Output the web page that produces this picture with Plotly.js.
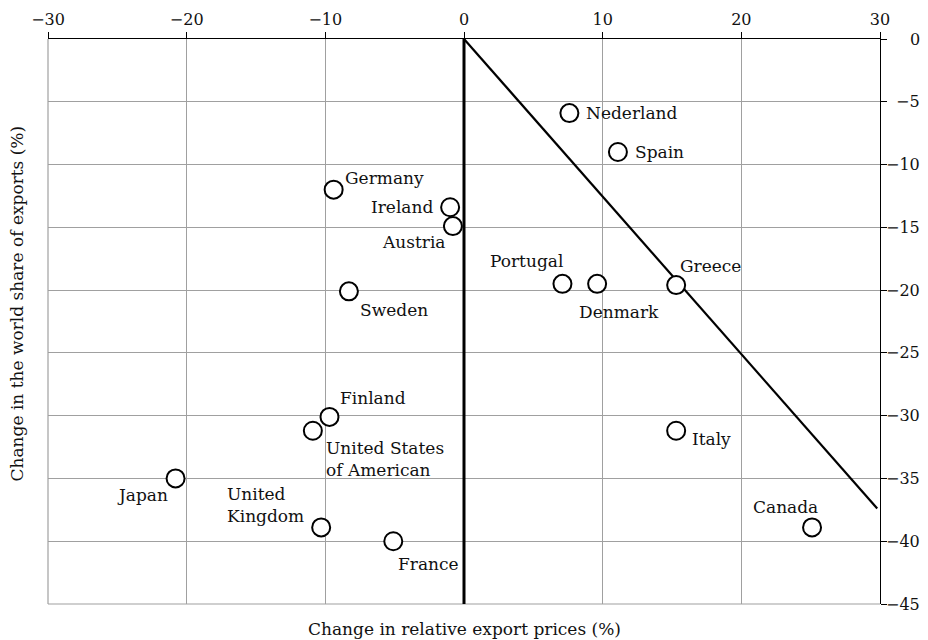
<!DOCTYPE html>
<html>
<head>
<meta charset="utf-8">
<script src="https://cdn.plot.ly/plotly-3.0.1.min.js"></script>
<style>html,body{margin:0;padding:0;background:#fff;}#chart{width:928px;height:640px;}</style>
</head>
<body>
<div id="chart"></div>
<script>
// ---- data ----
var countries = ["Nederland", "Spain", "Germany", "Ireland", "Austria", "Sweden", "Portugal", "Denmark", "Greece", "Italy", "Canada", "Finland", "United States<br>of American", "Japan", "United<br>Kingdom", "France"];
var priceChange = [7.6, 11.1, -9.4, -1.0, -0.8, -8.3, 7.1, 9.6, 15.3, 15.3, 25.1, -9.7, -10.9, -20.8, -10.3, -5.1];
var shareChange = [-5.9, -9.0, -12.0, -13.4, -14.9, -20.1, -19.5, -19.5, -19.6, -31.2, -38.9, -30.1, -31.2, -35.0, -38.9, -40.0];
var diagLineX = [0, 29.8];
var diagLineY = [0, -37.4];
var vertLineX = [0, 0];
var vertLineY = [0, -45];
var xTicks = [-30, -20, -10, 0, 10, 20, 30];
var yTicks = [0, -5, -10, -15, -20, -25, -30, -35, -40, -45];
var xTitle = "Change in relative export prices (%)";
var yTitle = "Change in the world share of exports (%)";

// ---- label placement (style only) ----
var place = {
  "Nederland": ["left", "middle", 15, 0],
  "Spain": ["left", "middle", 15, 0],
  "Germany": ["left", "middle", 9, 12],
  "Ireland": ["right", "middle", -15, 0],
  "Austria": ["right", "middle", -6, -16],
  "Sweden": ["left", "middle", 9, -19],
  "Portugal": ["right", "middle", 3, 23],
  "Denmark": ["center", "middle", 22, -28],
  "Greece": ["left", "middle", 2, 19],
  "Italy": ["left", "middle", 14, -8],
  "Canada": ["right", "middle", 8, 20],
  "Finland": ["left", "middle", 9, 19],
  "United States<br>of American": ["left", "middle", 11, -28],
  "Japan": ["right", "middle", -6, -17],
  "United<br>Kingdom": ["right", "middle", -15, 22],
  "France": ["left", "middle", 3, -23]
};

var FONT = "DejaVu Serif, Liberation Serif, serif";
var fontLabel = {family: FONT, size: 17, color: "#111"};
var fontTick = {family: FONT, size: 16, color: "#111"};

var traces = [
  {x: vertLineX, y: vertLineY, mode: "lines", line: {color: "#000", width: 3}, hoverinfo: "skip", showlegend: false, cliponaxis: false},
  {x: diagLineX, y: diagLineY, mode: "lines", line: {color: "#000", width: 2.2}, hoverinfo: "skip", showlegend: false},
  {x: priceChange, y: shareChange, mode: "markers", type: "scatter",
   marker: {symbol: "circle", size: 18, color: "#fff", line: {color: "#000", width: 2}},
   showlegend: false}
];

var annotations = [];
countries.forEach(function (c, i) {
  var p = place[c];
  annotations.push({
    x: priceChange[i], y: shareChange[i], xref: "x", yref: "y",
    text: c, showarrow: false, xanchor: p[0], yanchor: p[1],
    xshift: p[2], yshift: p[3], align: "left", font: fontLabel
  });
});
yTicks.forEach(function (v) {
  annotations.push({
    x: 1, xref: "paper", y: v, yref: "y", xanchor: "right", yanchor: "middle",
    xshift: 42, showarrow: false,
    text: (v < 0 ? "\u2212" + Math.abs(v) : String(v)), font: fontTick
  });
});
annotations.push({
  x: 0.5, xref: "paper", y: 0, yref: "paper", xanchor: "center", yanchor: "middle",
  yshift: -25, showarrow: false, text: xTitle, font: fontLabel
});
annotations.push({
  x: 0, xref: "paper", y: 0.5, yref: "paper", xanchor: "center", yanchor: "middle",
  xshift: -32, yshift: 18, textangle: -90, showarrow: false, text: yTitle, font: fontLabel
});

var layout = {
  width: 928, height: 640,
  margin: {l: 48, r: 48, t: 39, b: 36, pad: 0},
  paper_bgcolor: "#fff", plot_bgcolor: "#fff",
  font: {family: FONT, size: 16, color: "#111"},
  xaxis: {
    range: [-30, 30], side: "top", tickvals: xTicks,
    ticktext: xTicks.map(function (v) { return v < 0 ? "\u2212" + Math.abs(v) : String(v); }),
    ticks: "outside", ticklen: 6, tickcolor: "#000", tickwidth: 1,
    showline: true, linecolor: "#000", linewidth: 1.2,
    showgrid: true, gridcolor: "#a0a0a0", gridwidth: 1.2, zeroline: false,
    tickfont: fontTick, fixedrange: true
  },
  yaxis: {
    range: [-45, 0], side: "right", tickvals: yTicks, showticklabels: false,
    ticks: "outside", ticklen: 6, tickcolor: "#000", tickwidth: 1,
    showline: true, linecolor: "#000", linewidth: 1.2,
    showgrid: true, gridcolor: "#a0a0a0", gridwidth: 1.2, zeroline: false, fixedrange: true
  },
  annotations: annotations,
  shapes: [
    {type: "line", xref: "paper", yref: "paper", x0: 0, x1: 0, y0: 0, y1: 1, line: {color: "#a0a0a0", width: 1.2}, layer: "below"},
    {type: "line", xref: "paper", yref: "paper", x0: 0, x1: 1, y0: 0, y1: 0, line: {color: "#a0a0a0", width: 1.2}, layer: "below"}
  ],
  showlegend: false
};

Plotly.newPlot("chart", traces, layout, {displayModeBar: false, staticPlot: true});
</script>
</body>
</html>
